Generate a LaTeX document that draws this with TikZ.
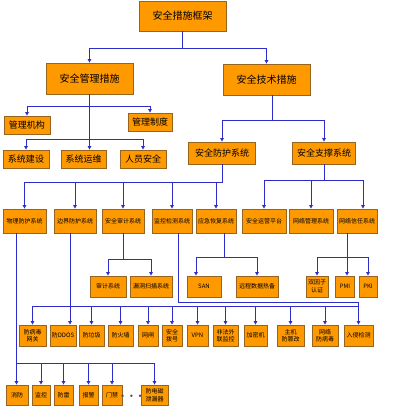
\documentclass[tikz,border=0pt]{standalone}
\usepackage{fontspec}
\setmainfont{Noto Sans CJK SC}
\usepackage{xcolor}
\usepackage{tikz}
\usetikzlibrary{arrows.meta,positioning}

\definecolor{boxfill}{RGB}{255,153,0}
\definecolor{boxline}{RGB}{150,100,30}
\definecolor{linkblue}{RGB}{45,45,200}

\begin{document}
\begin{tikzpicture}[
    x=1pt, y=-1pt,
    box/.style={rectangle, draw=boxline, fill=boxfill, line width=0.8pt, align=center, inner sep=1pt},
    huge/.style={box, font=\fontsize{10}{12}\selectfont},
    big/.style={box, font=\fontsize{9}{11}\selectfont},
    small/.style={box, font=\fontsize{6}{7.5}\selectfont},
    link/.style={draw=linkblue, line width=1pt},
    arrow/.style={link, -{Triangle[length=3.5pt,width=3.5pt]}}
]
\useasboundingbox (0,0) rectangle (417,420);

% top levels
\node[huge, minimum width=87pt, minimum height=30pt] (frame) at (182.5,16) {安全措施框架};
\node[huge, minimum width=87pt, minimum height=31pt] (mgmt) at (89.5,78.5) {安全管理措施};
\node[huge, minimum width=87pt, minimum height=31pt] (tech) at (266.5,79.5) {安全技术措施};

% management side
\node[big, minimum width=46pt, minimum height=18pt] (org) at (27,125) {管理机构};
\node[big, minimum width=44pt, minimum height=18pt] (rule) at (150,122) {管理制度};
\node[big, minimum width=46pt, minimum height=18pt] (build) at (26,159) {系统建设};
\node[big, minimum width=45pt, minimum height=18pt] (maint) at (83.5,159) {系统运维};
\node[big, minimum width=46pt, minimum height=18pt] (staff) at (143,159) {人员安全};

% technical side
\node[big, minimum width=67pt, minimum height=22pt] (prot) at (222,153) {安全防护系统};
\node[big, minimum width=63pt, minimum height=22pt] (supp) at (324,153) {安全支撑系统};

% third row
\node[small, minimum width=43pt, minimum height=24pt] (phys) at (24.5,221) {物理防护系统};
\node[small, minimum width=42pt, minimum height=24pt] (border) at (75,221) {边界防护系统};
\node[small, minimum width=42pt, minimum height=24pt] (audit) at (123,221) {安全审计系统};
\node[small, minimum width=40pt, minimum height=24pt] (mon) at (172,221) {监控检测系统};
\node[small, minimum width=40pt, minimum height=24pt] (emerg) at (216,221) {应急恢复系统};
\node[small, minimum width=44pt, minimum height=24pt] (oper) at (264,221) {安全运营平台};
\node[small, minimum width=44pt, minimum height=24pt] (netm) at (311,221) {网络管理系统};
\node[small, minimum width=40pt, minimum height=24pt] (trust) at (357,221) {网络信任系统};

% fourth row
\node[small, minimum width=36pt, minimum height=21pt] (asys) at (108,286.5) {审计系统};
\node[small, minimum width=42pt, minimum height=21pt] (vuln) at (151,286.5) {漏洞扫描系统};
\node[small, minimum width=34pt, minimum height=21pt] (san) at (204,286.5) {SAN};
\node[small, minimum width=42pt, minimum height=21pt] (backup) at (257,286.5) {远程数据热备};
\node[small, minimum width=22pt, minimum height=21pt] (dual) at (317,286.5) {双因子\\认证};
\node[small, minimum width=19pt, minimum height=21pt] (pmi) at (345,286.5) {PMI};
\node[small, minimum width=18pt, minimum height=21pt] (pki) at (368,286.5) {PKI};

% border products
\node[small, minimum width=27pt, minimum height=21pt] (gw) at (32.5,335.5) {防病毒\\网关};
\node[small, minimum width=26pt, minimum height=21pt] (ddos) at (63,335.5) {防DDOS};
\node[small, minimum width=25pt, minimum height=21pt] (spam) at (91.5,335.5) {防垃圾};
\node[small, minimum width=25pt, minimum height=21pt] (fw) at (120.5,335.5) {防火墙};
\node[small, minimum width=20pt, minimum height=21pt] (gap) at (148,335.5) {网闸};
\node[small, minimum width=20pt, minimum height=21pt] (dial) at (172,335.5) {安全\\拨号};
\node[small, minimum width=21pt, minimum height=21pt] (vpn) at (197.5,335.5) {VPN};
\node[small, minimum width=25pt, minimum height=21pt] (ext) at (225.5,335.5) {非法外\\联监控};
\node[small, minimum width=23pt, minimum height=21pt] (crypt) at (255.5,335.5) {加密机};
\node[small, minimum width=27pt, minimum height=21pt] (host) at (290.5,335.5) {主机\\防篡改};
\node[small, minimum width=26pt, minimum height=21pt] (netav) at (325,335.5) {网络\\防病毒};
\node[small, minimum width=29pt, minimum height=21pt] (ids) at (358.5,335.5) {入侵检测};

% physical products
\node[small, minimum width=22pt, minimum height=20pt] (fire) at (17,395) {消防};
\node[small, minimum width=18pt, minimum height=20pt] (cctv) at (41,395) {监控};
\node[small, minimum width=19pt, minimum height=20pt] (light) at (63.5,395) {防雷};
\node[small, minimum width=19pt, minimum height=20pt] (alarm) at (88.5,395) {报警};
\node[small, minimum width=20pt, minimum height=20pt] (door) at (112,395) {门禁};
\node[font=\fontsize{4}{4}\selectfont, text=black!70, inner sep=0pt] (more) at (131.5,396) {$\bullet\hspace{3.5pt}\bullet\hspace{3.5pt}\bullet$};
\node[small, minimum width=27pt, minimum height=20pt] (emp) at (154.5,395) {防电磁\\泄漏器};

% connectors
\draw[arrow] (frame.south) -- ++(0,17) -| (mgmt.north);
\draw[arrow] (frame.south) -- ++(0,17) -| (tech.north);

\draw[arrow] (mgmt.south) -- ++(0,12) -| (org.north);
\draw[arrow] (mgmt.south) -- ++(0,12) -| (rule.north);
\draw[arrow] (mgmt.south) -- ++(0,45) -| (build.north);
\draw[arrow] (mgmt.south) -- (mgmt.south |- maint.north);
\draw[arrow] (mgmt.south) -- ++(0,45) -| (staff.north);

\draw[arrow] ([xshift=6pt]tech.south) -- ++(0,25) -| (prot.north);
\draw[arrow] ([xshift=6pt]tech.south) -- ++(0,25) -| (supp.north);

\foreach \n in {phys,border,audit,mon,emerg}
    \draw[arrow] (prot.south) -- ++(0,18) -| (\n.north);
\foreach \n in {oper,netm}
    \draw[arrow] (supp.south) -- ++(0,16) -| (\n.north);
\draw[arrow] (supp.south) -- ++(0,16) -| ([xshift=6pt]trust.north);

\draw[arrow] (audit.south) -- ++(0,26) -| (asys.north);
\draw[arrow] (audit.south) -- ++(0,26) -| (vuln.north);
\draw[arrow] ([xshift=8pt]emerg.south) -- ++(0,24) -| ([xshift=-8pt]san.north);
\draw[arrow] ([xshift=8pt]emerg.south) -- ++(0,24) -| (backup.north);
\draw[arrow] ([xshift=-10pt]trust.south) -- ++(0,24) -| (dual.north);
\draw[arrow] ([xshift=-10pt]trust.south) -- ([xshift=-10pt]trust.south |- pmi.north);
\draw[arrow] ([xshift=-10pt]trust.south) -- ++(0,24) -| (pki.north);

% border bus
\draw[arrow] ([xshift=-5pt]border.south) -- ([xshift=-5pt]border.south |- ddos.north);
\foreach \n in {gw,spam,fw,gap,dial,vpn,ext,crypt,host,netav,ids}
    \draw[arrow] ([xshift=-5pt]border.south) -- ++(0,73) -| (\n.north);
\draw[link] ([xshift=6pt]mon.south) -- ++(0,69) -| ([yshift=19pt]ids.north);

% physical bus
\draw[arrow] ([xshift=-8pt]phys.south) -- ([xshift=-8pt]phys.south |- fire.north);
\foreach \n in {cctv,light,alarm,door,emp}
    \draw[arrow] ([xshift=-8pt]phys.south) -- ++(0,130) -| (\n.north);
\end{tikzpicture}
\end{document}
